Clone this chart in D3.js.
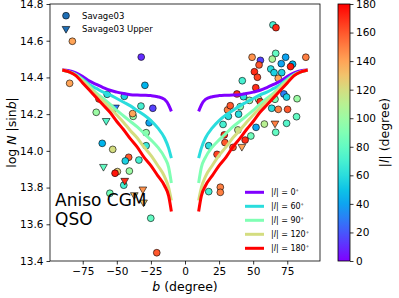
<!DOCTYPE html>
<html>
<head>
<meta charset="utf-8">
<script src="https://d3js.org/d3.v7.min.js"></script>
<style>
  body { margin: 0; background: #fff; }
  text { font-family: "DejaVu Sans", sans-serif; fill: #000; }
</style>
</head>
<body>
<div id="chart"></div>
<script>
// Savage03 detections: galactic latitude b, log N|sin b|, |l|
var detB = [-82.6, -84.6, -32.1, -29.4, -57.1, -44.5, -63.1, -65.1, -32.3, -38.0, -38.4,
  -23.6, -26.3, -28.5, -28.5, -60.7, -53.0, -41.3, -43.8, -33.8, -49.6, -51.3, -40.8,
  -44.9, -55.1, -25.1, -20.7,
  64.5, 66.7, 88.6, 49.2, 55.3, 54.3, 66.5, 64.0, 73.8, 70.6, 78.9, 77.4, 50.9, 53.1,
  62.9, 65.3, 70.9, 42.0, 68.4, 51.9, 38.1, 42.9, 72.5, 74.5, 82.2, 47.3, 53.8, 55.1,
  31.2, 33.2, 40.5, 66.0, 63.6, 68.4, 75.2, 31.8, 39.3, 81.8, 74.5, 58.2, 52.1, 66.5,
  28.8, 48.3, 27.9, 38.8, 44.1, 17.4, 29.3, 23.5, 35.2, 25.9, 25.9, 17.4];
var detN = [14.597, 14.368, 14.511, 14.357, 14.308, 14.297, 14.283, 14.210, 14.244, 14.188, 14.203,
  14.232, 14.153, 14.099, 14.028, 14.041, 14.008, 13.965, 13.945, 13.950, 13.887, 13.878, 13.890,
  13.813, 13.769, 13.633, 13.445,
  14.686, 14.671, 14.510, 14.510, 14.493, 14.468, 14.531, 14.500, 14.510, 14.475, 14.472, 14.459, 14.431, 14.401,
  14.446, 14.426, 14.426, 14.382, 14.395, 14.344, 14.310, 14.295, 14.310, 14.293, 14.284, 14.275, 14.283, 14.268,
  14.223, 14.246, 14.241, 14.281, 14.232, 14.226, 14.226, 14.188, 14.200, 14.186, 14.150, 14.146, 14.128, 14.101,
  14.087, 14.081, 14.144, 14.114, 14.059, 14.028, 14.045, 13.981, 14.019, 13.802, 13.774, 13.778];
var detL = [140, 140, 10, 45, 60, 55, 160, 100, 70, 100, 140,
  15, 40, 95, 65, 45, 120, 160, 55, 70, 125, 175, 100,
  70, 85, 80, 160,
  70, 170, 150, 145, 15, 160, 80, 105, 40, 40, 45, 175, 170, 165,
  60, 55, 55, 70, 140, 170, 170, 60, 30, 55, 100, 100, 100, 170,
  150, 160, 90, 90, 60, 150, 160, 60, 60, 80, 75, 110, 40, 80,
  170, 85, 70, 115, 170, 60, 160, 165, 160, 150, 150, 70];

// Savage03 upper limits
var upB = [-57.8, -51.0, -59.8, -44.2, -30.9, -37.2, -30.4, 66.0, 41.7];
var upN = [14.164, 14.237, 13.914, 13.838, 13.791, 13.760, 13.720, 14.150, 14.023];
var upL = [75, 30, 80, 170, 145, 130, 130, 150, 140];

// model curves, |b| grid and log N|sin b| for each |l|
var modelB = [10, 12, 15, 20, 25, 30, 35, 40, 45, 50, 55, 60, 65, 70, 75, 80, 85, 90];
var model0 = [14.215, 14.25, 14.28, 14.295, 14.301, 14.303, 14.304, 14.306, 14.312, 14.32, 14.33, 14.345, 14.362, 14.38, 14.405, 14.425, 14.437, 14.44];
var model60 = [13.96, 14.015, 14.07, 14.125, 14.165, 14.195, 14.22, 14.245, 14.265, 14.285, 14.305, 14.32, 14.34, 14.36, 14.39, 14.415, 14.43, 14.44];
var model90 = [13.825, 13.91, 13.965, 14.02, 14.06, 14.095, 14.13, 14.16, 14.19, 14.22, 14.255, 14.285, 14.315, 14.35, 14.385, 14.415, 14.43, 14.44];
var model120 = [13.73, 13.8, 13.86, 13.92, 13.975, 14.02, 14.07, 14.11, 14.155, 14.195, 14.235, 14.27, 14.305, 14.345, 14.38, 14.41, 14.43, 14.44];
var model180 = [13.67, 13.755, 13.81, 13.865, 13.92, 13.965, 14.02, 14.065, 14.115, 14.16, 14.21, 14.25, 14.29, 14.33, 14.37, 14.41, 14.43, 14.44];
var modelL = [0, 60, 90, 120, 180];
var models = [model0, model60, model90, model120, model180];

var xTicks = [-75, -50, -25, 0, 25, 50, 75];
var yTicks = [13.4, 13.6, 13.8, 14.0, 14.2, 14.4, 14.6, 14.8];
var cbTicks = [0, 20, 40, 60, 80, 100, 120, 140, 160, 180];

// matplotlib "rainbow" colormap
function rainbow(t) {
  var r = Math.min(1, Math.abs(2 * t - 0.5));
  var g = Math.sin(Math.PI * t);
  var b = Math.cos(Math.PI * t / 2);
  return d3.rgb(r * 255, g * 255, b * 255).formatHex();
}
var lColor = function (v) { return rainbow(v / 180); };

var W = 399, H = 298;
var svg = d3.select('#chart').append('svg')
  .attr('width', W).attr('height', H);

var x = d3.scaleLinear().domain([-99, 99]).range([50, 320]);
var y = d3.scaleLinear().domain([13.4, 14.8]).range([261, 4]);

// axes
var xAxis = svg.append('g').attr('transform', 'translate(0,261)')
  .call(d3.axisBottom(x).tickValues(xTicks).tickSize(3.5).tickPadding(3)
    .tickFormat(function (d) { return d < 0 ? '\u2212' + (-d) : d; }));
var yAxis = svg.append('g').attr('transform', 'translate(50,0)')
  .call(d3.axisLeft(y).tickValues(yTicks).tickSize(3.5).tickPadding(3)
    .tickFormat(d3.format('.1f')));
[xAxis, yAxis].forEach(function (a) {
  a.select('.domain').remove();
  a.selectAll('line').attr('stroke', '#000').attr('stroke-width', 0.8);
  a.selectAll('text').style('font-size', '10.5px').attr('fill', '#000');
});

// scatter: detections
var det = detB.map(function (b, i) { return { b: b, n: detN[i], l: detL[i] }; });
svg.append('g').selectAll('circle').data(det).enter()
  .append('circle')
  .attr('cx', function (d) { return x(d.b); })
  .attr('cy', function (d) { return y(d.n); })
  .attr('r', 3.4)
  .attr('fill', function (d) { return lColor(d.l); })
  .attr('stroke', '#000').attr('stroke-width', 0.6);

// scatter: upper limits (down triangles)
var tri = d3.symbol().type(d3.symbolTriangle).size(26);
var ups = upB.map(function (b, i) { return { b: b, n: upN[i], l: upL[i] }; });
svg.append('g').selectAll('path').data(ups).enter()
  .append('path')
  .attr('d', tri)
  .attr('transform', function (d) { return 'translate(' + x(d.b) + ',' + y(d.n) + ') rotate(180)'; })
  .attr('fill', function (d) { return lColor(d.l); })
  .attr('stroke', '#000').attr('stroke-width', 0.6);

// model curves, both hemispheres
var line = d3.line()
  .x(function (d) { return x(d[0]); })
  .y(function (d) { return y(d[1]); })
  .curve(d3.curveMonotoneX);
models.forEach(function (m, k) {
  var right = modelB.map(function (b, i) { return [b, m[i]]; });
  var left = modelB.map(function (b, i) { return [-b, m[i]]; }).reverse();
  [left, right].forEach(function (pts) {
    svg.append('path').datum(pts)
      .attr('d', line)
      .attr('fill', 'none')
      .attr('stroke', lColor(modelL[k]))
      .attr('stroke-width', 3);
  });
});

// frame
svg.append('rect').attr('x', 50).attr('y', 4).attr('width', 270).attr('height', 257)
  .attr('fill', 'none').attr('stroke', '#000').attr('stroke-width', 0.8);

// axis labels
svg.append('text').attr('x', 185).attr('y', 291).attr('text-anchor', 'middle')
  .style('font-size', '12.5px')
  .html('<tspan font-style="italic">b</tspan> (degree)');
svg.append('text').attr('transform', 'translate(16,132.5) rotate(-90)')
  .attr('text-anchor', 'middle').style('font-size', '12.5px')
  .html('log <tspan font-style="italic">N</tspan> |sin<tspan font-style="italic">b</tspan>|');

// top-left legend
var lg = svg.append('g');
lg.append('circle').attr('cx', 66).attr('cy', 15.7).attr('r', 3.4)
  .attr('fill', '#1f6eb4').attr('stroke', '#000').attr('stroke-width', 0.6);
lg.append('path').attr('d', tri)
  .attr('transform', 'translate(66,28.7) rotate(180)')
  .attr('fill', '#1f6eb4').attr('stroke', '#000').attr('stroke-width', 0.6);
lg.append('text').attr('x', 82).attr('y', 18.8).style('font-size', '8.5px').text('Savage03');
lg.append('text').attr('x', 82).attr('y', 31.8).style('font-size', '8.5px').text('Savage03 Upper');

// bottom-right legend
var lg2 = svg.append('g').selectAll('g').data(modelL).enter().append('g')
  .attr('transform', function (d, i) { return 'translate(0,' + (192.3 + i * 14) + ')'; });
lg2.append('line').attr('x1', 245).attr('x2', 264).attr('y1', 0).attr('y2', 0)
  .attr('stroke', function (d) { return lColor(d); }).attr('stroke-width', 3);
lg2.append('text').attr('x', 271).attr('y', 3).style('font-size', '8px')
  .html(function (d) { return '|<tspan font-style="italic">l</tspan>| = ' + d + '<tspan dy="-3" font-size="5.5px">\u2218</tspan>'; });

// annotation
svg.append('text').attr('x', 55).attr('y', 206).style('font-size', '17px').text('Aniso CGM');
svg.append('text').attr('x', 55).attr('y', 224.5).style('font-size', '17px').text('QSO');

// colorbar
var cb = d3.scaleLinear().domain([0, 180]).range([261, 4]);
var grad = svg.append('defs').append('linearGradient').attr('id', 'cbgrad')
  .attr('x1', 0).attr('y1', 1).attr('x2', 0).attr('y2', 0);
d3.range(0, 181, 10).forEach(function (v) {
  grad.append('stop').attr('offset', v / 180).attr('stop-color', lColor(v));
});
svg.append('rect').attr('x', 338).attr('y', 4).attr('width', 12).attr('height', 257)
  .attr('fill', 'url(#cbgrad)').attr('stroke', '#000').attr('stroke-width', 0.8);
var cbAxis = svg.append('g').attr('transform', 'translate(350,0)')
  .call(d3.axisRight(cb).tickValues(cbTicks).tickSize(3.5).tickPadding(2.5));
cbAxis.select('.domain').remove();
cbAxis.selectAll('line').attr('stroke', '#000').attr('stroke-width', 0.8);
cbAxis.selectAll('text').style('font-size', '10.5px').attr('fill', '#000');
svg.append('text').attr('transform', 'translate(389,132.5) rotate(-90)')
  .attr('text-anchor', 'middle').style('font-size', '12.5px')
  .html('|<tspan font-style="italic">l</tspan>| (degree)');
</script>
</body>
</html>
